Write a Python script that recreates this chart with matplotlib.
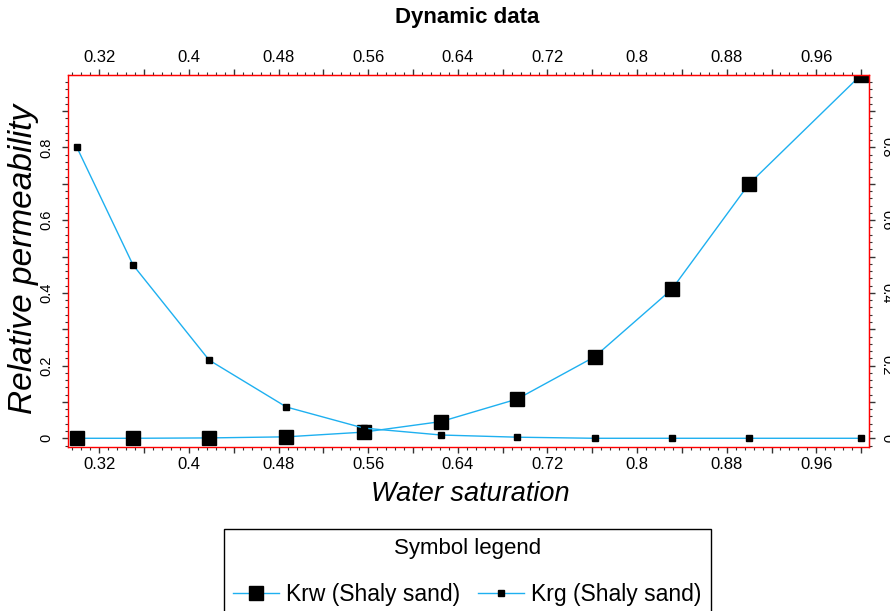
import matplotlib
matplotlib.use('Agg')
import matplotlib.pyplot as plt
from matplotlib.ticker import MultipleLocator, FuncFormatter

plt.rcParams['font.family'] = ['Liberation Sans', 'DejaVu Sans']

# data
sw = [0.30, 0.35, 0.418, 0.487, 0.556, 0.625, 0.693, 0.762, 0.831, 0.90, 1.0]
krw = [0.0, 0.0, 0.001, 0.004, 0.017, 0.046, 0.108, 0.224, 0.41, 0.70, 1.0]
krg = [0.80, 0.477, 0.215, 0.086, 0.028, 0.009, 0.003, 0.0, 0.0, 0.0, 0.0]

line_col = '#1EB0F0'
tick_col = '#333333'

fig = plt.figure(figsize=(8.9, 6.11), dpi=100)
ax = fig.add_axes([0.0764, 0.2684, 0.9, 0.6089])

ax.plot(sw, krw, color=line_col, lw=1, marker='s', ms=9.5, mfc='black', mec='black',
        label='Krw (Shaly sand)')
ax.plot(sw, krg, color=line_col, lw=1, marker='s', ms=4.5, mfc='black', mec='black',
        label='Krg (Shaly sand)')

ax.set_xlim(0.292, 1.007)
ax.set_ylim(-0.024, 0.9995)

for s in ax.spines.values():
    s.set_color('red')
    s.set_linewidth(1)

def xfmt(v, pos):
    k = v / 0.08
    return f'{v:g}' if abs(k - round(k)) < 1e-6 else ''

def yfmt(v, pos):
    k = v / 0.2
    return f'{round(v, 2):g}' if abs(k - round(k)) < 1e-6 else ''

def style_x(a):
    a.xaxis.set_major_locator(MultipleLocator(0.04))
    a.xaxis.set_minor_locator(MultipleLocator(0.008))
    a.xaxis.set_major_formatter(FuncFormatter(xfmt))
    a.tick_params(axis='x', which='major', direction='out', length=4.5, width=1,
                  color=tick_col, labelsize=12, pad=3)
    a.tick_params(axis='x', which='minor', direction='out', length=2.2, width=0.8,
                  color=tick_col)

def style_y(a, rot, pad):
    a.yaxis.set_major_locator(MultipleLocator(0.1))
    a.yaxis.set_minor_locator(MultipleLocator(0.02))
    a.yaxis.set_major_formatter(FuncFormatter(yfmt))
    a.tick_params(axis='y', which='major', direction='out', length=4.5, width=1,
                  color=tick_col, labelsize=10.5, pad=pad, labelrotation=rot)
    a.tick_params(axis='y', which='minor', direction='out', length=2.2, width=0.8,
                  color=tick_col)
    for lab in a.get_yticklabels():
        lab.set_va('center')

style_x(ax)
style_y(ax, 90, 6)

top = ax.secondary_xaxis('top')
top.spines['top'].set_color('red')
style_x(top)

right = ax.secondary_yaxis('right')
right.spines['right'].set_color('red')
style_y(right, -90, 3)

fig.text(0.525, 1 - 18 / 611, 'Dynamic data', ha='center', va='center',
         fontsize=16, fontweight='bold')
fig.text(0.528, 1 - 494 / 611, 'Water saturation', ha='center', va='center',
         fontsize=19.5, style='italic')
fig.text(24 / 890, 1 - 259 / 611, 'Relative permeability', ha='center', va='center',
         rotation=90, fontsize=24, style='italic')

leg = fig.legend(loc='upper left', bbox_to_anchor=(224 / 890, 1 - 529 / 611), ncol=2,
                 title='Symbol legend', fontsize=16.5, title_fontsize=16, frameon=True,
                 fancybox=False, edgecolor='black', framealpha=1,
                 handlelength=2.0, handletextpad=0.3, columnspacing=0.8,
                 labelspacing=1.05, borderpad=0.4, borderaxespad=0)
leg.get_frame().set_linewidth(1)

fig.savefig('out.png', dpi=100)
